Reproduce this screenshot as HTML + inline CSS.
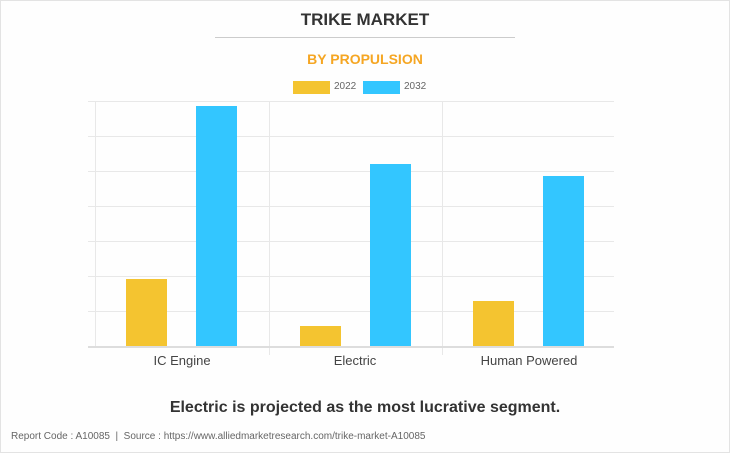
<!DOCTYPE html><html><head><style>
body{margin:0;background:#fff}
.w{position:relative;width:728px;height:451px;border:1px solid #e3e3e3;background:#fefefe;font-family:"Liberation Sans",sans-serif;overflow:hidden}
.t{position:absolute;left:-1px;width:730px;text-align:center}
</style></head><body><div class="w">
<div class="t" style="top:9px;font-size:17px;font-weight:bold;color:#333">TRIKE MARKET</div>
<div style="position:absolute;left:214px;top:36px;width:300px;height:1px;background:#ccc"></div>
<div class="t" style="top:50px;font-size:14px;font-weight:bold;color:#f5a623">BY PROPULSION</div>
<div style="position:absolute;left:292px;top:80px;width:37px;height:13px;background:#f4c430"></div>
<div style="position:absolute;left:333px;top:80px;font-size:10px;color:#666">2022</div>
<div style="position:absolute;left:362px;top:80px;width:37px;height:13px;background:#33c6ff"></div>
<div style="position:absolute;left:403px;top:80px;font-size:10px;color:#666">2032</div>
<svg style="position:absolute;left:-1px;top:-1px" width="730" height="453">
<g stroke="#e8e8e8" stroke-width="1">
<line x1="88" x2="614" y1="101.5" y2="101.5"/><line x1="88" x2="614" y1="136.5" y2="136.5"/><line x1="88" x2="614" y1="171.5" y2="171.5"/><line x1="88" x2="614" y1="206.5" y2="206.5"/><line x1="88" x2="614" y1="241.5" y2="241.5"/><line x1="88" x2="614" y1="276.5" y2="276.5"/><line x1="88" x2="614" y1="311.5" y2="311.5"/>
<line x1="95.5" x2="95.5" y1="101" y2="347"/><line x1="269.5" x2="269.5" y1="101" y2="355"/><line x1="442.5" x2="442.5" y1="101" y2="355"/>
</g>
<line x1="88" x2="614" y1="347" y2="347" stroke="#ddd" stroke-width="2"/>
<g fill="#f4c430"><rect x="126" y="279" width="41" height="67"/><rect x="300" y="326" width="41" height="20"/><rect x="473" y="301" width="41" height="45"/></g>
<g fill="#33c6ff"><rect x="196" y="106" width="41" height="240"/><rect x="370" y="164" width="41" height="182"/><rect x="543" y="176" width="41" height="170"/></g>
<g font-family="Liberation Sans" font-size="13" fill="#444" text-anchor="middle">
<text x="182" y="365">IC Engine</text><text x="355" y="365">Electric</text><text x="529" y="365">Human Powered</text></g>
</svg>
<div class="t" style="top:398px;font-size:16px;font-weight:bold;color:#333">Electric is projected as the most lucrative segment.</div>
<div style="position:absolute;left:10px;top:430px;font-size:10px;color:#666">Report Code : A10085 &nbsp;| &nbsp;Source : https://www.alliedmarketresearch.com/trike-market-A10085</div>
</div></body></html>
